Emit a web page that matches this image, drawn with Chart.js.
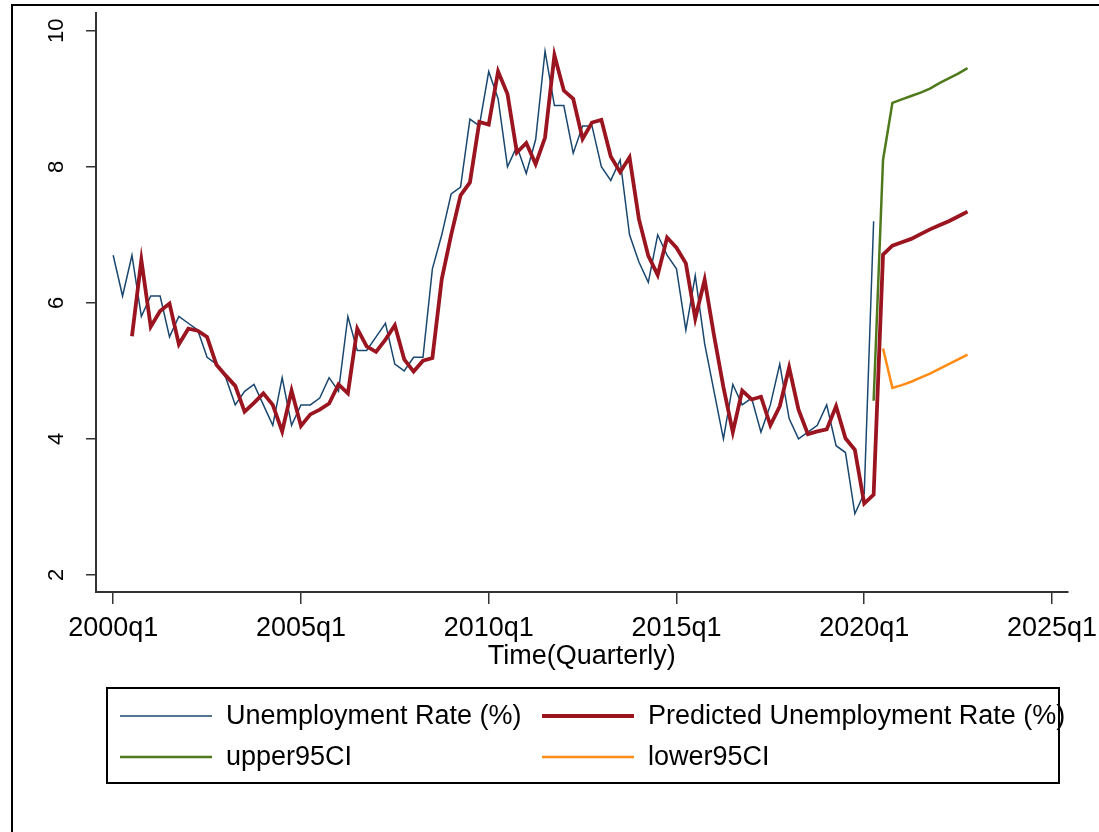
<!DOCTYPE html>
<html>
<head>
<meta charset="utf-8">
<title>Unemployment rate and forecast</title>
<script src="https://cdn.jsdelivr.net/npm/chart.js@4.4.1/dist/chart.umd.min.js"></script>
<style>
  html, body { margin: 0; padding: 0; background: #fff; }
  canvas { display: block; }
</style>
</head>
<body>
<canvas id="forecastChart" width="1099" height="832"></canvas>
<script>
// quarters are Stata %tq numbers: 160 = 2000q1
const unemploymentStart = 160;
const unemploymentRate = [
    6.7, 6.1, 6.7, 5.8, 6.1, 6.1, 5.5, 5.8, 5.7, 5.6,
    5.2, 5.1, 4.9, 4.5, 4.7, 4.8, 4.5, 4.2, 4.9, 4.2,
    4.5, 4.5, 4.6, 4.9, 4.7, 5.8, 5.3, 5.3, 5.5, 5.7,
    5.1, 5.0, 5.2, 5.2, 6.5, 7.0, 7.6, 7.7, 8.7, 8.6,
    9.4, 9.0, 8.0, 8.3, 7.9, 8.4, 9.7, 8.9, 8.9, 8.2,
    8.6, 8.6, 8.0, 7.8, 8.1, 7.0, 6.6, 6.3, 7.0, 6.7,
    6.5, 5.6, 6.4, 5.4, 4.7, 4.0, 4.8, 4.5, 4.6, 4.1,
    4.5, 5.1, 4.3, 4.0, 4.1, 4.2, 4.5, 3.9, 3.8, 2.9,
    3.2, 7.2
];

const predictedStart = 162;
const predictedRate = [
    5.51, 6.63, 5.65, 5.88, 5.99, 5.39, 5.62, 5.59,
    5.50, 5.09, 4.93, 4.78, 4.40, 4.53, 4.67, 4.50, 4.11, 4.71,
    4.19, 4.36, 4.43, 4.52, 4.80, 4.67, 5.62, 5.36, 5.28, 5.46,
    5.67, 5.17, 4.99, 5.15, 5.19, 6.35, 7.00, 7.58, 7.77, 8.66,
    8.62, 9.40, 9.07, 8.21, 8.35, 8.04, 8.43, 9.64, 9.12, 9.00,
    8.41, 8.65, 8.69, 8.15, 7.92, 8.14, 7.23, 6.69, 6.41, 6.96,
    6.81, 6.58, 5.77, 6.34, 5.52, 4.76, 4.10, 4.71, 4.58, 4.62,
    4.20, 4.48, 5.05, 4.43, 4.07, 4.11, 4.14, 4.48, 4.01, 3.84,
    3.05, 3.18, 6.71, 6.84, 6.89, 6.94, 7.01, 7.08, 7.14, 7.20,
    7.27, 7.34
];

const upperStart = 241;
const upper95CI = [4.56, 8.10, 8.94, 8.99, 9.04, 9.09, 9.15, 9.23, 9.30, 9.37, 9.45];

const lowerStart = 242;
const lower95CI = [5.33, 4.75, 4.79, 4.84, 4.90, 4.96, 5.03, 5.10, 5.17, 5.24];

const xTickValues = [160, 180, 200, 220, 240, 260];
const xTickLabels = ['2000q1', '2005q1', '2010q1', '2015q1', '2020q1', '2025q1'];
const yTickValues = [2, 4, 6, 8, 10];
const yTickLabels = ['2', '4', '6', '8', '10'];

const FONT = '"Liberation Sans", Arial, sans-serif';
Chart.defaults.font.family = FONT;
Chart.defaults.color = '#000';

function toPoints(start, values) {
    return values.map((v, i) => ({ x: start + i, y: v }));
}

// outer frame of the Stata graph region
const framePlugin = {
    id: 'frame',
    beforeDraw(chart) {
        const ctx = chart.ctx;
        ctx.save();
        ctx.strokeStyle = '#000';
        ctx.lineWidth = 2;
        ctx.strokeRect(12, 5, 1300, 1000);
        ctx.restore();
    }
};

// y labels are turned 90 degrees like Stata does
const rotatedYLabels = {
    id: 'rotatedYLabels',
    afterDraw(chart) {
        const scale = chart.scales.y;
        const ctx = chart.ctx;
        ctx.save();
        ctx.font = '22px ' + FONT;
        ctx.fillStyle = '#000';
        ctx.textAlign = 'center';
        ctx.textBaseline = 'middle';
        yTickValues.forEach((v, i) => {
            ctx.save();
            ctx.translate(57, scale.getPixelForValue(v));
            ctx.rotate(-Math.PI / 2);
            ctx.fillText(yTickLabels[i], 0, 0);
            ctx.restore();
        });
        ctx.restore();
    }
};

const boxedLegend = {
    id: 'boxedLegend',
    afterDraw(chart) {
        const ctx = chart.ctx;
        const slots = [[120, 716], [542, 716], [120, 757], [542, 757]];
        ctx.save();
        ctx.strokeStyle = '#000';
        ctx.lineWidth = 2;
        ctx.strokeRect(107, 688, 952, 95);
        ctx.font = '27px ' + FONT;
        ctx.fillStyle = '#000';
        ctx.textBaseline = 'middle';
        chart.data.datasets.forEach((ds, i) => {
            const [x, y] = slots[i];
            ctx.strokeStyle = ds.borderColor;
            ctx.lineWidth = ds.borderWidth;
            ctx.beginPath();
            ctx.moveTo(x, y);
            ctx.lineTo(x + 92, y);
            ctx.stroke();
            ctx.fillText(ds.label, x + 106, y + 1);
        });
        ctx.restore();
    }
};

const chart = document.getElementById('forecastChart');
new Chart(chart, {
    type: 'line',
    data: {
        datasets: [{
            label: 'Unemployment Rate (%)',
            data: toPoints(unemploymentStart, unemploymentRate),
            borderColor: '#1a476f',
            borderWidth: 1.5,
            order: 4
        }, {
            label: 'Predicted Unemployment Rate (%)',
            data: toPoints(predictedStart, predictedRate),
            borderColor: '#9a1520',
            borderWidth: 3.8,
            order: 3
        }, {
            label: 'upper95CI',
            data: toPoints(upperStart, upper95CI),
            borderColor: '#4f7a1c',
            borderWidth: 2.5,
            order: 2
        }, {
            label: 'lower95CI',
            data: toPoints(lowerStart, lower95CI),
            borderColor: '#ff8b16',
            borderWidth: 2.5,
            order: 1
        }]
    },
    options: {
        responsive: false,
        animation: false,
        devicePixelRatio: 1,
        layout: {
            padding: { top: 13, right: 31.5, bottom: 0, left: 0 }
        },
        elements: {
            point: { radius: 0 },
            line: { tension: 0, fill: false }
        },
        scales: {
            x: {
                type: 'linear',
                min: 158.17,
                max: 261.65,
                afterBuildTicks: (scale) => {
                    scale.ticks = xTickValues.map(v => ({ value: v }));
                },
                afterFit: (scale) => {
                    scale.height = 240;
                    scale.paddingLeft = 0;
                    scale.paddingRight = 0;
                },
                ticks: {
                    autoSkip: false,
                    maxRotation: 0,
                    padding: 8,
                    color: '#000',
                    font: { size: 27 },
                    callback: (value) => xTickLabels[xTickValues.indexOf(value)]
                },
                grid: {
                    drawOnChartArea: false,
                    tickLength: 12,
                    color: '#333',
                    lineWidth: 1.5
                },
                border: { color: '#333', width: 2 },
                title: {
                    display: true,
                    text: 'Time(Quarterly)',
                    color: '#000',
                    font: { size: 27 },
                    padding: { top: 0, bottom: 159 }
                }
            },
            y: {
                min: 1.75,
                max: 10.26,
                afterBuildTicks: (scale) => {
                    scale.ticks = yTickValues.map(v => ({ value: v }));
                },
                afterFit: (scale) => {
                    scale.width = 96;
                    scale.paddingTop = 0;
                    scale.paddingBottom = 0;
                },
                ticks: { display: false },
                grid: {
                    drawOnChartArea: false,
                    tickLength: 10,
                    color: '#333',
                    lineWidth: 1.5
                },
                border: { color: '#333', width: 2 }
            }
        },
        plugins: {
            legend: { display: false },
            tooltip: { enabled: false }
        }
    },
    plugins: [framePlugin, rotatedYLabels, boxedLegend]
});
</script>
</body>
</html>
